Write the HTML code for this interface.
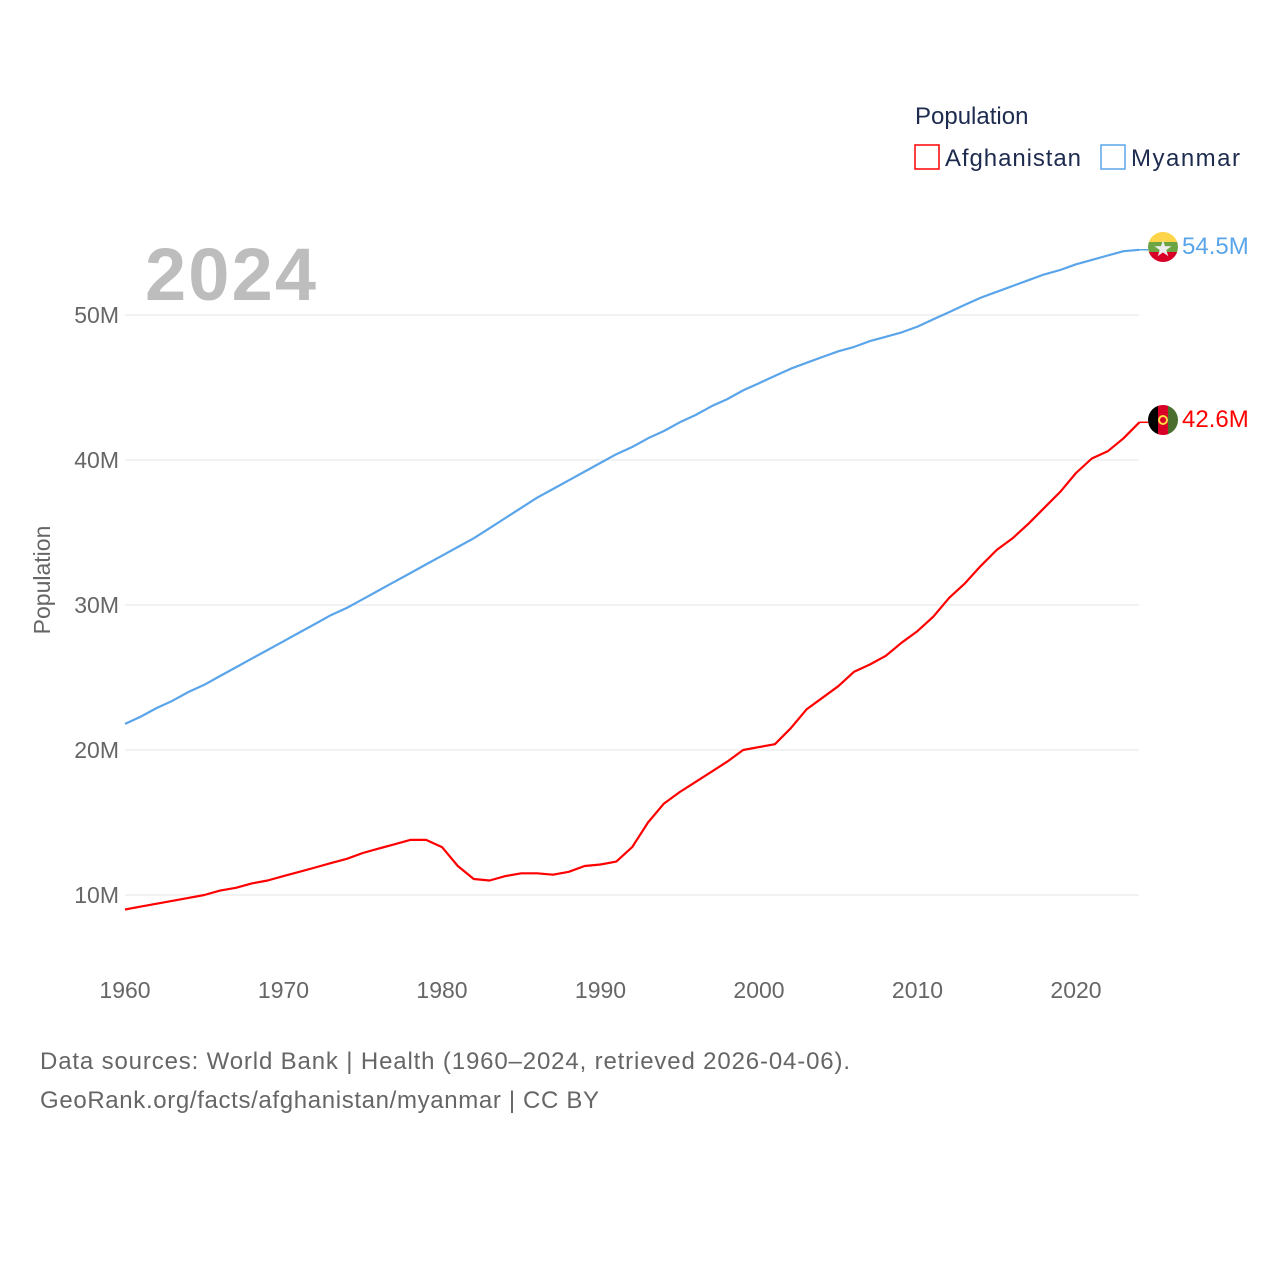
<!DOCTYPE html>
<html><head><meta charset="utf-8"><style>
body{margin:0;background:#fff;font-family:"Liberation Sans",sans-serif;}
svg text{font-family:"Liberation Sans",sans-serif;}
</style></head><body>
<svg width="1280" height="1280">
<g id="grid"></g>
<g id="ylab"></g>
<g id="xlab"></g>
<text x="145" y="300" font-size="74" font-weight="bold" fill="#bdbdbd" textLength="171">2024</text>
<text transform="translate(50,580) rotate(-90)" text-anchor="middle" font-size="23" fill="#666">Population</text>
<g id="series"></g>
<g>
<text x="915" y="124" font-size="24" fill="#1d2b4f">Population</text>
<rect x="915" y="145" width="24" height="24" fill="none" stroke="#ff0000" stroke-width="1.5"/>
<text x="945" y="166" font-size="24" fill="#1d2b4f" textLength="136">Afghanistan</text>
<rect x="1101" y="145" width="24" height="24" fill="none" stroke="#5aa5ea" stroke-width="1.5"/>
<text x="1131" y="166" font-size="24" fill="#1d2b4f" textLength="109">Myanmar</text>
</g>
<g>
<clipPath id="c1"><circle cx="1163" cy="247" r="15"/></clipPath>
<g clip-path="url(#c1)"><rect x="1148" y="232" width="30" height="10" fill="#fdd44a"/><rect x="1148" y="242" width="30" height="10" fill="#6da544"/><rect x="1148" y="252" width="30" height="10" fill="#d80027"/></g>
<text x="1163" y="256" text-anchor="middle" font-size="22" fill="#eee">★</text>
</g>
<g>
<clipPath id="c2"><circle cx="1163" cy="420" r="15"/></clipPath>
<g clip-path="url(#c2)"><rect x="1148" y="405" width="10" height="30" fill="#000"/><rect x="1158" y="405" width="10" height="30" fill="#d80027"/><rect x="1168" y="405" width="10" height="30" fill="#496e2d"/></g>
<circle cx="1163" cy="420" r="4" fill="none" stroke="#ffda44" stroke-width="2"/>
</g>
<text x="1182" y="254" font-size="24" fill="#5aa5ea">54.5M</text>
<text x="1182" y="427" font-size="24" fill="#ff0000">42.6M</text>
<text x="40" y="1069" font-size="24" fill="#666" textLength="810">Data sources: World Bank | Health (1960–2024, retrieved 2026-04-06).</text>
<text x="40" y="1108" font-size="24" fill="#666" textLength="559">GeoRank.org/facts/afghanistan/myanmar | CC BY</text>
</svg>
<script>
const years=[];for(let y=1960;y<=2024;y++)years.push(y);
const afghanistan=[9.0,9.2,9.4,9.6,9.8,10.0,10.3,10.5,10.8,11.0,11.3,11.6,11.9,12.2,12.5,12.9,13.2,13.5,13.8,13.8,13.3,12.0,11.1,11.0,11.3,11.5,11.5,11.4,11.6,12.0,12.1,12.3,13.3,15.0,16.3,17.1,17.8,18.5,19.2,20.0,20.2,20.4,21.5,22.8,23.6,24.4,25.4,25.9,26.5,27.4,28.2,29.2,30.5,31.5,32.7,33.8,34.6,35.6,36.7,37.8,39.1,40.1,40.6,41.5,42.6];
const myanmar=[21.8,22.3,22.9,23.4,24.0,24.5,25.1,25.7,26.3,26.9,27.5,28.1,28.7,29.3,29.8,30.4,31.0,31.6,32.2,32.8,33.4,34.0,34.6,35.3,36.0,36.7,37.4,38.0,38.6,39.2,39.8,40.4,40.9,41.5,42.0,42.6,43.1,43.7,44.2,44.8,45.3,45.8,46.3,46.7,47.1,47.5,47.8,48.2,48.5,48.8,49.2,49.7,50.2,50.7,51.2,51.6,52.0,52.4,52.8,53.1,53.5,53.8,54.1,54.4,54.5];
const yTicks=[10,20,30,40,50];
const xTicks=[1960,1970,1980,1990,2000,2010,2020];
const X=y=>125+(y-1960)*15.85;
const Y=v=>1040-v*14.5;
const NS="http://www.w3.org/2000/svg";
function mk(t,p,a){const e=document.createElementNS(NS,t);for(const k in a)e.setAttribute(k,a[k]);p.appendChild(e);return e;}
const grid=document.getElementById('grid'),ylab=document.getElementById('ylab'),xlab=document.getElementById('xlab'),ser=document.getElementById('series');
yTicks.forEach(v=>{
const l=mk('line',grid,{x1:125,x2:1139,y1:Y(v),y2:Y(v),stroke:'#e6e6e6','stroke-width':1});


const t=mk('text',ylab,{x:119,y:Y(v)+8,'text-anchor':'end','font-size':23,fill:'#666'});t.textContent=v+'M';


});
xTicks.forEach(v=>{
const t=mk('text',xlab,{x:X(v),y:998,'text-anchor':'middle','font-size':23,fill:'#666'});t.textContent=v;


});
function line(arr,col,name){
const d=arr.map((v,i)=>(i?'L':'M')+X(years[i]).toFixed(1)+','+Y(v).toFixed(1)).join('');
const p=mk('path',ser,{d:d,fill:'none',stroke:col,'stroke-width':2.2,'stroke-linejoin':'round'});


const n=arr.length-1;
const s=mk('line',ser,{x1:X(years[n]),y1:Y(arr[n]),x2:1148,y2:Y(arr[n]),stroke:col,'stroke-width':1.5});


}
line(myanmar,'#5aa5ea','myanmar-line');
line(afghanistan,'#ff0000','afghanistan-line');
</script>
</body></html>
